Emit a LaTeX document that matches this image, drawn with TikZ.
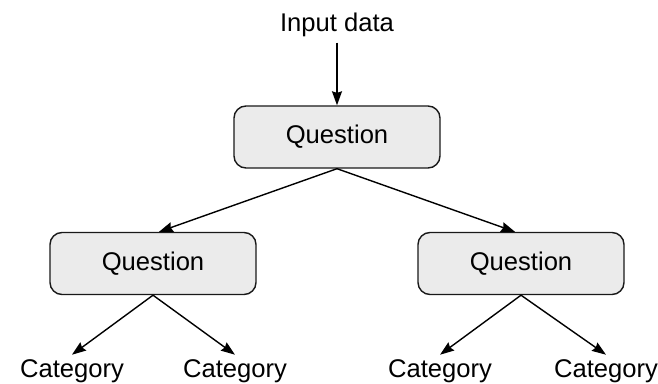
\documentclass[tikz,border=0pt]{standalone}
\usepackage{fontspec}
\setmainfont{Liberation Sans}
\usetikzlibrary{arrows.meta}

\begin{document}
\begin{tikzpicture}[x=0.5pt, y=-0.5pt,
	question/.style={draw=black!90, fill=black!8, line width=0.7pt, rounded corners=6pt, minimum width=103pt, minimum height=31pt, font=\fontsize{12.8}{15}\selectfont},
	label/.style={anchor=base, inner sep=2.5pt, font=\fontsize{12.8}{15}\selectfont},
	link/.style={-{Stealth[length=7pt, width=5pt, inset=0.8pt]}, line width=0.7pt}]
	\useasboundingbox (0,0) rectangle (658,384);
	\node[label] (input) at (337,32) {Input data};
	\node[question] (q0) at (337,137) {Question};
	\node[question] (q1) at (153,263.5) {Question};
	\node[question] (q2) at (521,263.5) {Question};
	\node[label] (c1) at (72,378) {Category};
	\node[label] (c2) at (235,378) {Category};
	\node[label] (c3) at (440,378) {Category};
	\node[label] (c4) at (606,378) {Category};
	\draw[link] (input) -- (q0);
	\draw[link] (q0.south) -- ([xshift=3pt]q1.north);
	\draw[link] (q0.south) -- ([xshift=-3pt]q2.north);
	\draw[link] (q1.south) -- (c1.north);
	\draw[link] (q1.south) -- (c2.north);
	\draw[link] (q2.south) -- (c3.north);
	\draw[link] (q2.south) -- (c4.north);
\end{tikzpicture}
\end{document}
